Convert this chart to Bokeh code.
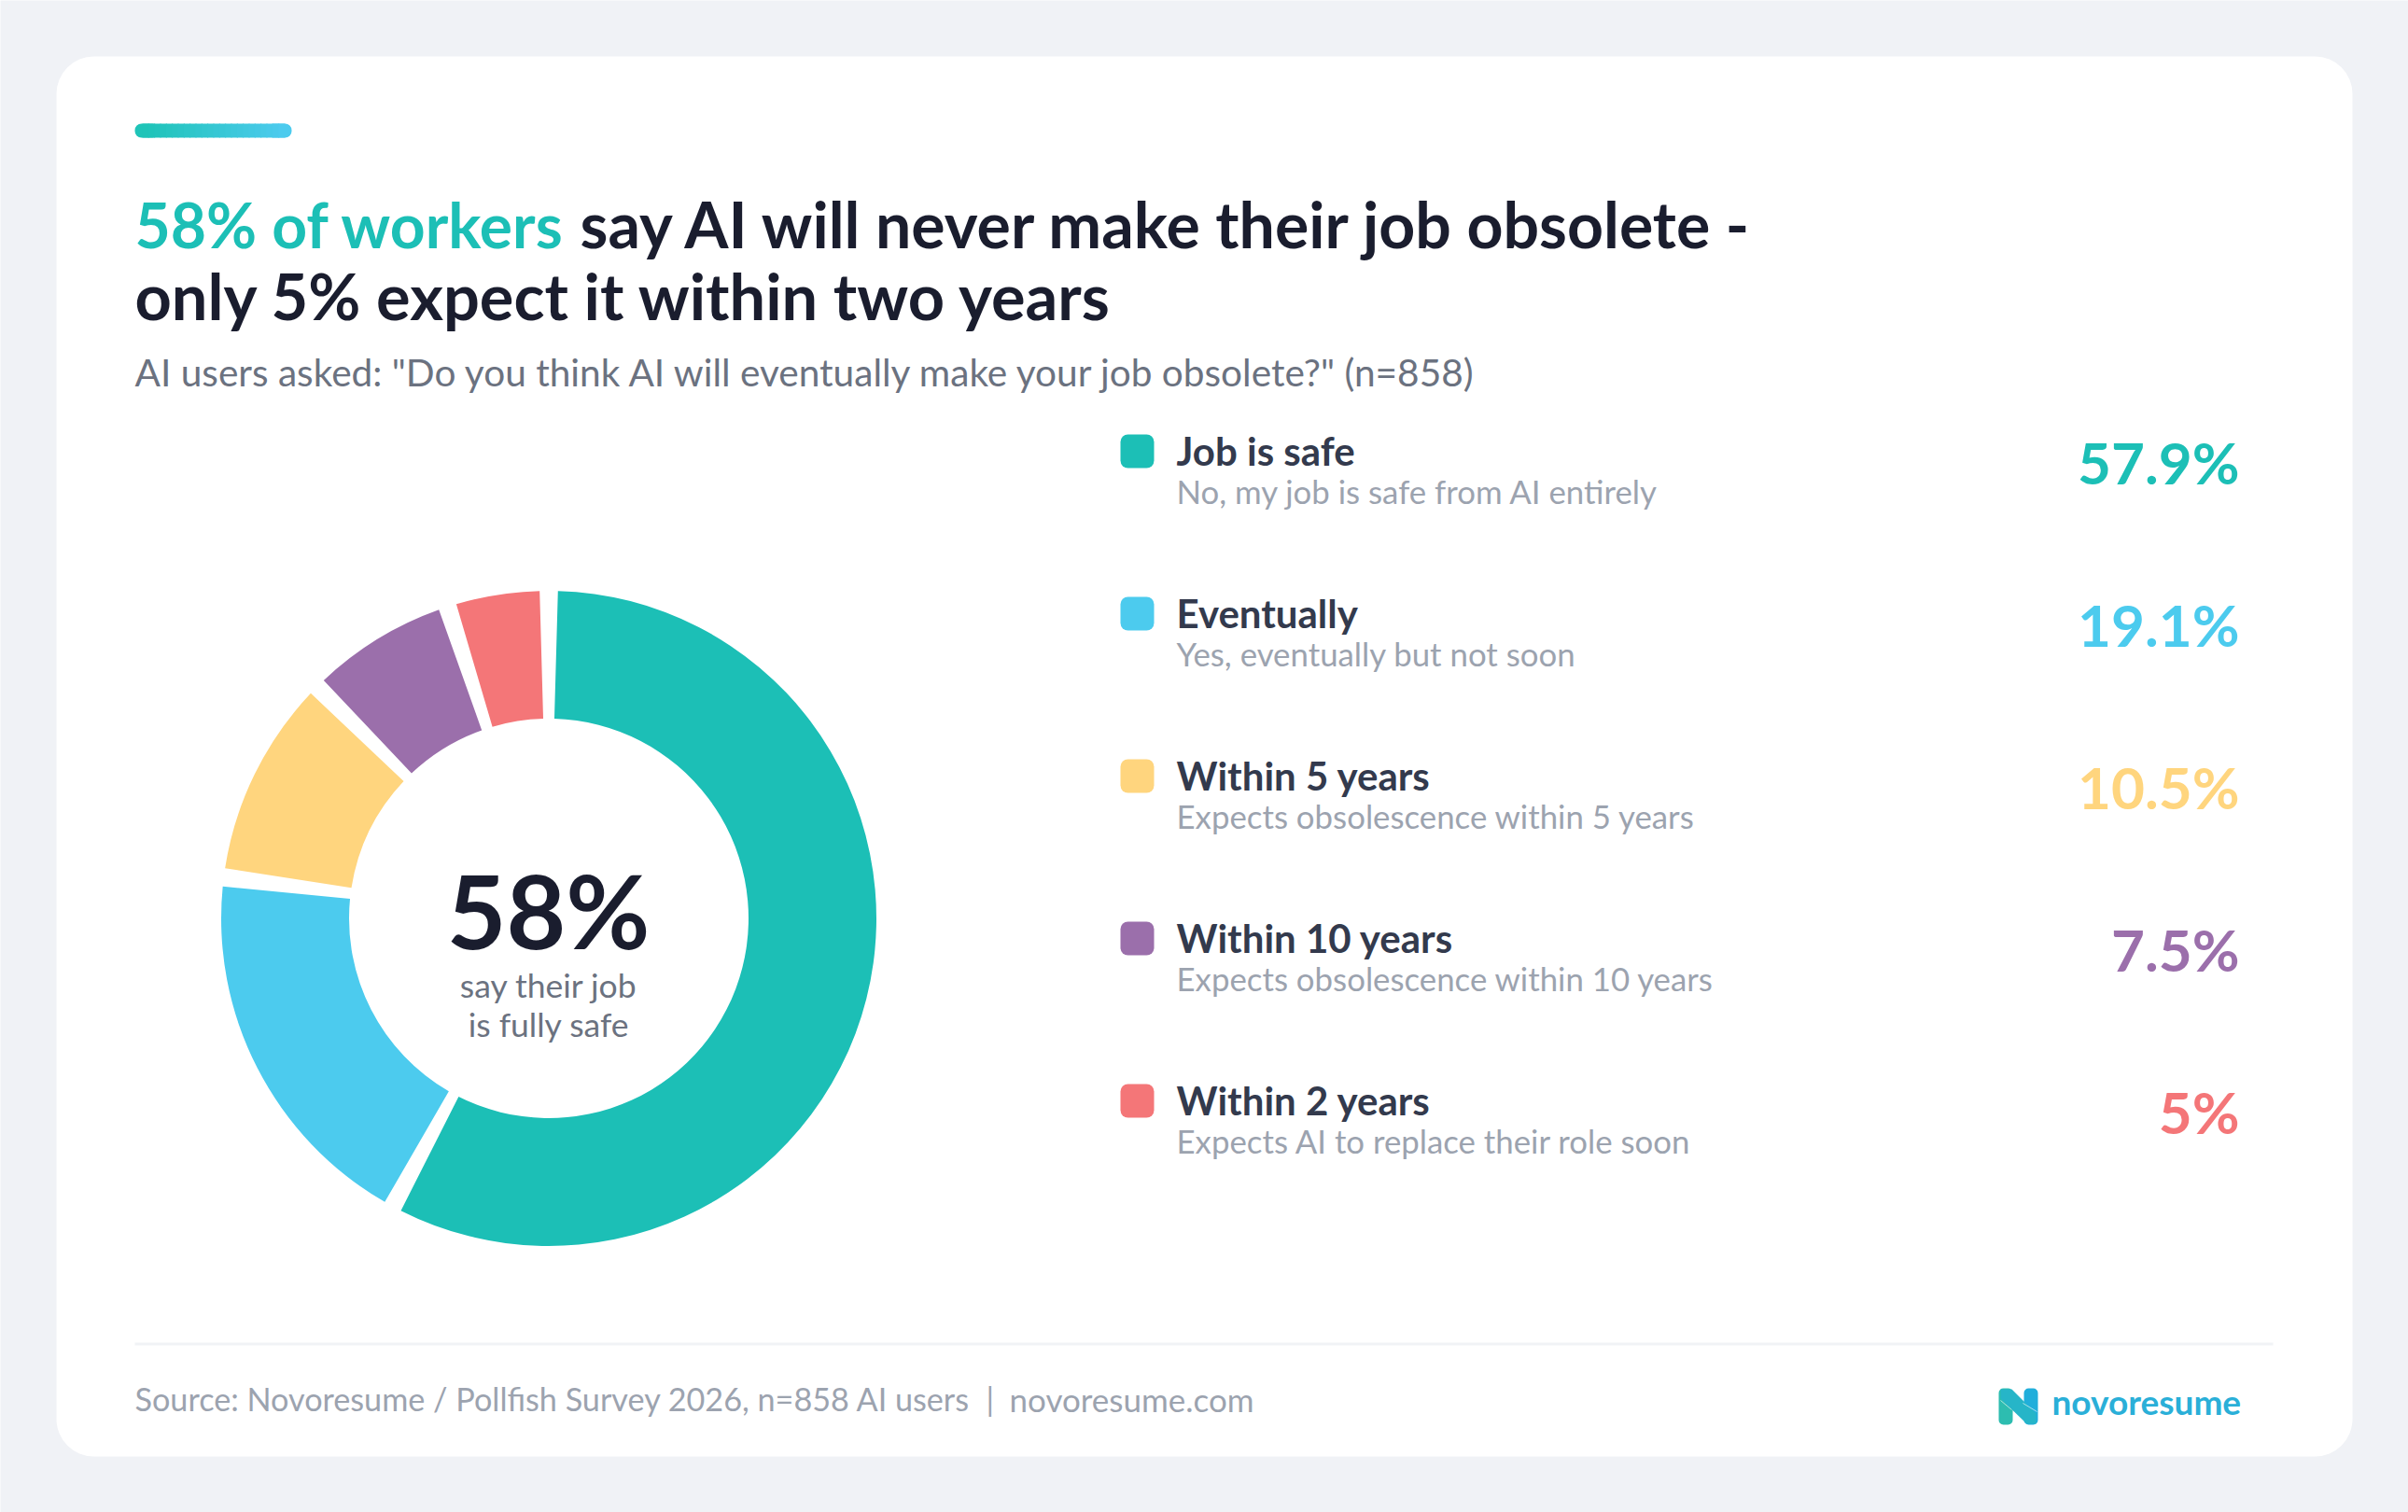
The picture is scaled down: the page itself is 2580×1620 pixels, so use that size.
from math import pi

from bokeh.core.properties import value
from bokeh.embed import file_html
from bokeh.models import ColumnDataSource
from bokeh.plotting import figure
from bokeh.resources import INLINE

# survey answers, largest first
categories = ["Job is safe", "Eventually", "Within 5 years", "Within 10 years", "Within 2 years"]
descriptions = [
    "No, my job is safe from AI entirely",
    "Yes, eventually but not soon",
    "Expects obsolescence within 5 years",
    "Expects obsolescence within 10 years",
    "Expects AI to replace their role soon",
]
values = [57.9, 19.1, 10.5, 7.5, 5]
value_labels = ["57.9%", "19.1%", "10.5%", "7.5%", "5%"]
colors = ["#1cbfb6", "#4ccbee", "#ffd57e", "#9b6fab", "#f47678"]

title_accent = "58% of workers"
title_rest = "say AI will never make their job obsolete -"
title_second = "only 5% expect it within two years"
subtitle = 'AI users asked: "Do you think AI will eventually make your job obsolete?" (n=858)'
source_note = "Source: Novoresume / Pollfish Survey 2026, n=858 AI users"
source_site = "novoresume.com"

FONT = value("Lato")
DARK = "#1a1d2e"
RAISE = 0.4  # the text glyph sits this many font sizes under the requested baseline

# data units are page pixels, so the layout can be read straight off the reference
p = figure(width=2580, height=1620, x_range=(0, 2580), y_range=(1620, 0),
           output_backend="svg", toolbar_location=None, tools="",
           min_border=0, background_fill_color="#f0f2f6", border_fill_color="#f0f2f6",
           outline_line_color=None)
p.axis.visible = False
p.grid.visible = False


def label(x, y, text, size, color, style="normal", align="left"):
    p.text([x], [y - RAISE * size], text=[text], text_font=FONT, text_font_size=f"{size}px",
           text_color=color, text_font_style=style, text_align=align,
           text_baseline="alphabetic")


# card
p.quad(left=60, right=2520, top=60, bottom=1560, fill_color="white", line_color=None, border_radius=40)

# accent bar, teal to blue
steps = 24
p.quad(left=144, right=170, top=132, bottom=147, fill_color="#1fc4b8", line_color=None, border_radius=7)
p.quad(left=286, right=312, top=132, bottom=147, fill_color="#4ccbee", line_color=None, border_radius=7)
for i in range(steps):
    t = i / (steps - 1)
    c = (int(0x1f + t * (0x4c - 0x1f)), int(0xc4 + t * (0xcb - 0xc4)), int(0xb8 + t * (0xee - 0xb8)))
    x0 = 152 + i * 152 / steps
    p.quad(left=x0, right=x0 + 152 / steps + 1, top=132, bottom=147,
           fill_color="#%02x%02x%02x" % c, line_color=None)

# headline
label(144, 266, title_accent, 66, colors[0], "bold")
label(621, 266, title_rest, 68, DARK, "bold")
label(144, 343, title_second, 68.5, DARK, "bold")
label(144, 414, subtitle, 40.6, "#6b7280")

# donut, clockwise from twelve o'clock
CX, CY, R_OUT, R_IN = 587.5, 983.5, 351, 214
PAD = 1.6 * pi / 180
starts, ends, acc = [], [], 0.0
for v in values:
    a0 = acc / sum(values) * 2 * pi
    acc += v
    a1 = acc / sum(values) * 2 * pi
    starts.append(pi / 2 - a0 - PAD)
    ends.append(pi / 2 - a1 + PAD)
donut = ColumnDataSource(dict(start=starts, end=ends, color=colors))
p.annular_wedge(x=CX, y=CY, inner_radius=R_IN, outer_radius=R_OUT, start_angle="start", end_angle="end",
                direction="clock", fill_color="color", line_color=None, source=donut)

label(587, 1017, "58%", 110, DARK, "bold", "center")
label(587.5, 1069, "say their job", 35.5, "#6b7280", "normal", "center")
label(587.5, 1111, "is fully safe", 35.5, "#6b7280", "normal", "center")

# legend rows
ROW = 174
rows = list(range(len(categories)))
legend = ColumnDataSource(dict(
    left=[1200] * len(rows), right=[1236] * len(rows),
    top=[465 + ROW * i for i in rows], bottom=[501 + ROW * i for i in rows],
    label_y=[499 - RAISE * 42 + ROW * i for i in rows], sub_y=[540 - RAISE * 35 + ROW * i for i in rows],
    value_y=[519 - RAISE * 62 + ROW * i for i in rows],
    name=categories, sub=descriptions, value=value_labels, color=colors,
))
p.quad(left="left", right="right", top="top", bottom="bottom", fill_color="color", line_color=None,
       border_radius=8, source=legend)
p.text(x=1260, y="label_y", text="name", text_font=FONT, text_font_size="42px", text_font_style="bold",
       text_color="#333a4d", text_baseline="alphabetic", source=legend)
p.text(x=1260, y="sub_y", text="sub", text_font=FONT, text_font_size="34.8px",
       text_color="#9ca3af", text_baseline="alphabetic", source=legend)
p.text(x=2399, y="value_y", text="value", text_font=FONT, text_font_size="62px", text_font_style="bold",
       text_color="color", text_align="right", text_baseline="alphabetic", source=legend)

# footer
p.quad(left=144, right=2435, top=1438, bottom=1441, fill_color="#f1f3f6", line_color=None)
label(144, 1512, source_note, 34.2, "#9ca3af")
label(1056, 1512, "|", 34.2, "#9ca3af")
label(1081, 1512, source_site, 35, "#9ca3af")

# logo
p.quad(left=2141, right=2156, top=1487, bottom=1526, fill_color="#2dbdb0", line_color=None, border_radius=5)
p.quad(left=2168, right=2183, top=1487, bottom=1526, fill_color="#20aedb", line_color=None, border_radius=5)
p.patch([2143, 2155, 2181, 2181, 2171, 2143], [1488, 1488, 1514, 1525, 1525, 1498], fill_color="#26b5c8", line_color=None)
p.segment(x0=[2143, 2167], y0=[1500, 1503], x1=[2155, 2182], y1=[1510, 1512], line_color="white", line_width=1, line_alpha=0.6)
label(2198, 1516, "novoresume", 37, "#2aafd8", "bold")

open("out.html", "w").write(file_html(p, INLINE))
